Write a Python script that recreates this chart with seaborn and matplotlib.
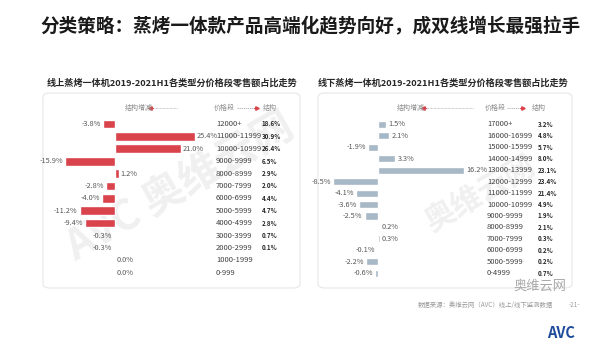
import matplotlib
matplotlib.use('Agg')
import matplotlib.pyplot as plt
import matplotlib.transforms as mtransforms
from matplotlib.patches import FancyBboxPatch
import seaborn as sns
import pandas as pd

sns.set_theme(style='white')
plt.rcParams['font.family'] = ['Noto Sans CJK SC', 'DejaVu Sans']

# Dados - 线上 (online)
Faixa_Online = ['12000+', '11000-11999', '10000-10999', '9000-9999', '8000-8999', '7000-7999',
                '6000-6999', '5000-5999', '4000-4999', '3000-3999', '2000-2999', '1000-1999', '0-999']
Variacao_Online = [-3.8, 25.4, 21.0, -15.9, 1.2, -2.8, -4.0, -11.2, -9.4, -0.3, -0.3, 0.0, 0.0]
Estrutura_Online = ['18.6%', '30.9%', '26.4%', '6.5%', '2.9%', '2.0%', '4.4%', '4.7%', '2.8%', '0.7%', '0.1%', '', '']

# Dados - 线下 (offline)
Faixa_Offline = ['17000+', '16000-16999', '15000-15999', '14000-14999', '13000-13999', '12000-12999',
                 '11000-11999', '10000-10999', '9000-9999', '8000-8999', '7000-7999', '6000-6999',
                 '5000-5999', '0-4999']
Variacao_Offline = [1.5, 2.1, -1.9, 3.3, 16.2, -8.5, -4.1, -3.6, -2.5, 0.2, 0.3, -0.1, -2.2, -0.6]
Estrutura_Offline = ['3.2%', '4.8%', '5.7%', '8.0%', '23.1%', '23.4%', '21.4%', '4.9%', '1.9%',
                     '2.1%', '0.3%', '0.2%', '0.2%', '0.7%']

Cor_Vermelho = '#d9434b'
Cor_Cinza = '#a7b8c6'
Cor_Texto = '#595959'

fig = plt.figure(figsize=(6, 3.53), dpi=100)
fig.set_facecolor('white')

# Titulo principal
fig.text(0.067, 0.925, '分类策略：蒸烤一体款产品高端化趋势向好，成双线增长最强拉手',
         fontsize=13.4, fontweight='bold', color='#1a1a1a', ha='left', va='center')

# Caixas arredondadas (atras dos eixos)
for x0, x1 in [(43, 300), (318, 572)]:
    caixa = FancyBboxPatch((x0 / 600, 1 - 288 / 353), (x1 - x0) / 600, (288 - 93) / 353,
                           boxstyle='round,pad=0,rounding_size=0.012', transform=fig.transFigure,
                           facecolor='white', edgecolor='#e6e6e6', linewidth=0.8, zorder=-2)
    fig.patches.append(caixa)

# Marca d'agua
fig.text(0.30, 0.47, 'AVC 奥维云网', fontsize=30, fontweight='bold', color='#f0f0f0',
         rotation=30, ha='center', va='center', zorder=-1)
fig.text(0.80, 0.45, '奥维云网', fontsize=22, fontweight='bold', color='#f0f0f0',
         rotation=30, ha='center', va='center', zorder=-1)


def desenha_painel(ax, faixas, valores, estrutura, cor, xlim, pad, x_preco, x_estr, altura):
    df = pd.DataFrame({'faixa': faixas, 'valor': valores})
    sns.barplot(data=df, x='valor', y='faixa', orient='h', color=cor, width=altura,
                saturation=1, ax=ax)
    ax.set_xlim(*xlim)
    ax.set_facecolor('none')
    ax.set_xlabel('')
    ax.set_ylabel('')
    ax.set_xticks([])
    ax.set_yticks([])
    sns.despine(ax=ax, left=True, bottom=True)
    trans = mtransforms.blended_transform_factory(ax.transAxes, ax.transData)
    for i, (v, f, e) in enumerate(zip(valores, faixas, estrutura)):
        if v < 0:
            ax.text(v - pad, i, f'{v:.1f}%', ha='right', va='center', fontsize=5.3, color=Cor_Texto)
        else:
            ax.text(v + pad, i, f'{v:.1f}%', ha='left', va='center', fontsize=5.3, color=Cor_Texto)
        ax.text(x_preco, i, f, transform=trans, ha='left', va='center', fontsize=5.5, color='#404040')
        ax.text(x_estr, i, e, transform=trans, ha='left', va='center', fontsize=4.5,
                fontweight='bold', color='#262626')


# Painel esquerdo
ax1 = fig.add_axes([0.075, 0.2099, 0.4, 0.4564])
desenha_painel(ax1, Faixa_Online, Variacao_Online, Estrutura_Online, Cor_Vermelho,
               (-22.2, 54.0), 0.6, 0.712, 0.904, 0.7)

# Painel direito
ax2 = fig.add_axes([0.5333, 0.2096, 0.4083, 0.4544])
desenha_painel(ax2, Faixa_Offline, Variacao_Offline, Estrutura_Offline, Cor_Cinza,
               (-10.94, 35.28), 0.4, 0.682, 0.8898, 0.62)

# Titulos dos paineis
fig.text(0.078, 0.765, '线上蒸烤一体机2019-2021H1各类型分价格段零售额占比走势',
         fontsize=6.6, fontweight='bold', color='#262626', ha='left', va='center')
fig.text(0.53, 0.765, '线下蒸烤一体机2019-2021H1各类型分价格段零售额占比走势',
         fontsize=6.6, fontweight='bold', color='#262626', ha='left', va='center')

# Cabecalhos
y_cab = 1 - 108 / 353
for x_inc, seta1, x_preco, seta2, x_estr in [(125, (177, 150), 214, (237, 257), 263),
                                             (397, (473, 423), 485, (507, 523), 532)]:
    fig.text(x_inc / 600, y_cab, '结构增减', fontsize=5, color='#8c8c8c', ha='left', va='center')
    fig.text(x_preco / 600, y_cab, '价格段', fontsize=5, color='#8c8c8c', ha='left', va='center')
    fig.text(x_estr / 600, y_cab, '结构', fontsize=5, color='#8c8c8c', ha='left', va='center')
    fig.add_artist(plt.Line2D([seta1[0] / 600, (seta1[1] + 3) / 600], [y_cab, y_cab],
                              color='#a0a0a0', lw=0.5, ls=(0, (1, 1)), transform=fig.transFigure))
    fig.add_artist(plt.Line2D([seta2[0] / 600, (seta2[1] - 3) / 600], [y_cab, y_cab],
                              color='#a0a0a0', lw=0.5, ls=(0, (2, 1)), transform=fig.transFigure))
    for (xa, xb) in [seta1, seta2]:
        d = 3 if xb < xa else -3
        fig.add_artist(plt.Line2D([(xb + d) / 600, xb / 600], [y_cab, y_cab], color=Cor_Vermelho,
                                  lw=0.8, marker='>' if d < 0 else '<', markersize=2.5,
                                  markevery=[1], transform=fig.transFigure))

# Rodape
fig.text(0.922, 1 - 305 / 353, '数据来源：奥维云网（AVC）线上/线下监测数据', fontsize=4.6,
         color='#9a9a9a', ha='right', va='center')
fig.text(0.957, 1 - 305 / 353, '-21-', fontsize=4.6, color='#9a9a9a', ha='center', va='center')
fig.text(0.90, 1 - 286 / 353, '奥维云网', fontsize=9.5, color='#a8a8a8', ha='center', va='center')

# Logo
fig.text(0.935, 1 - 333 / 353, 'AVC', fontsize=10.5, fontweight='heavy', style='italic',
         color='#1e4b9b', ha='center', va='center')

fig.savefig('out.png', dpi=100, facecolor='white')
